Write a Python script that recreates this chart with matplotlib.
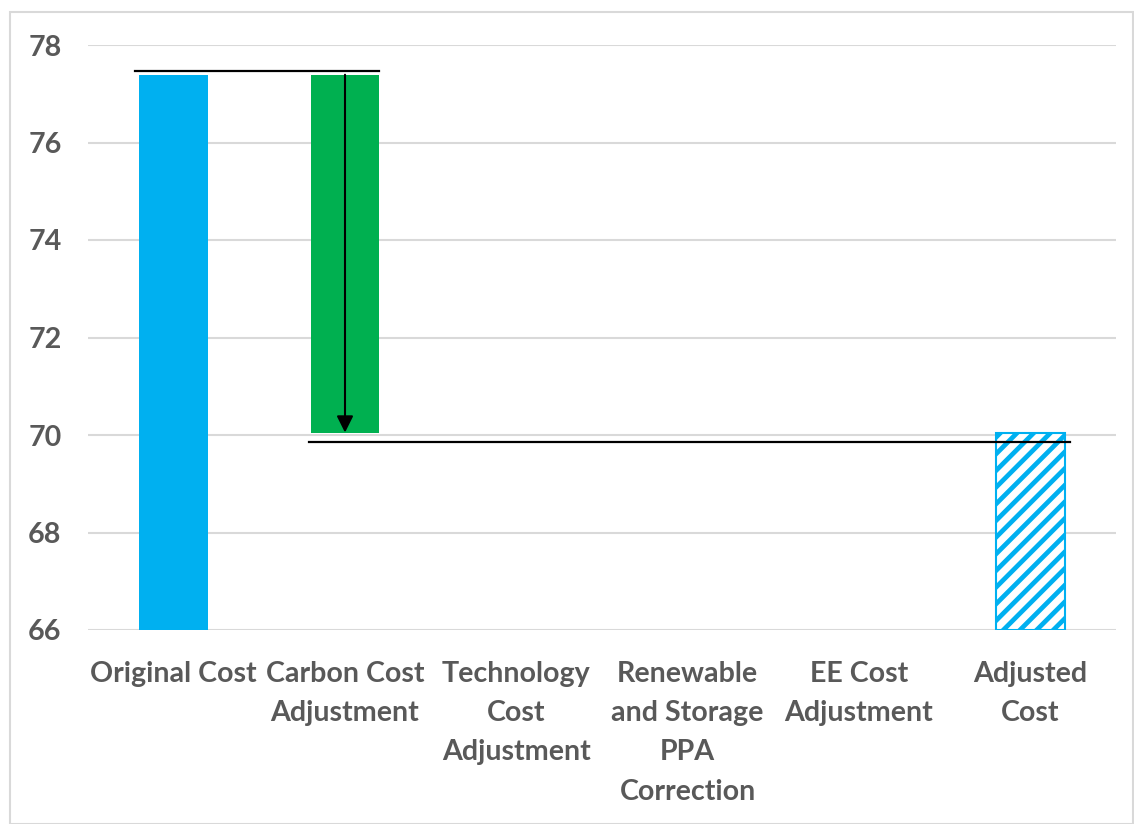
import matplotlib
matplotlib.use("Agg")
import matplotlib.pyplot as plt
from matplotlib.patches import Rectangle

categories = ["Original Cost", "Carbon Cost\nAdjustment", "Technology\nCost\nAdjustment",
              "Renewable\nand Storage\nPPA\nCorrection", "EE Cost\nAdjustment", "Adjusted\nCost"]
original_cost = 77.39
adjustments = [-7.34, 0.0, 0.0, 0.0]
adjusted_cost = 70.05
y_ticks = [66, 68, 70, 72, 74, 76, 78]

BLUE = "#00B0F0"
GREEN = "#00B050"
TEXT = "#595959"
GRID = "#D9D9D9"

plt.rcParams["font.family"] = ["Lato", "DejaVu Sans"]
plt.rcParams["font.weight"] = "bold"
plt.rcParams["hatch.linewidth"] = 3.4

fig = plt.figure(figsize=(11.34, 8.24), dpi=100)
ax = fig.add_axes([88 / 1134, 1 - 630 / 824, (1116 - 88) / 1134, (630 - 45) / 824])

# figure frame
fig.patches.append(Rectangle((10 / 1134, 0), 1 - 10 / 1134 - 0.001, 1 - 12 / 824,
                             transform=fig.transFigure, fill=False,
                             edgecolor=GRID, linewidth=1.5))

ymin = y_ticks[0]
x = list(range(len(categories)))
w = 0.4

# starting total
ax.bar(x[0], original_cost - ymin, bottom=ymin, width=w, color=BLUE, zorder=3)

# adjustments as floating bars
level = original_cost
for i, d in enumerate(adjustments, start=1):
    if d != 0:
        ax.bar(x[i], abs(d), bottom=min(level, level + d), width=w, color=GREEN, zorder=3)
        ax.annotate("", xy=(x[i], level + d), xytext=(x[i], level),
                    arrowprops=dict(arrowstyle="-|>", color="black", lw=1.5,
                                    mutation_scale=25, shrinkA=0, shrinkB=0),
                    zorder=5)
    level += d

# final total
ax.bar(x[-1], adjusted_cost - ymin, bottom=ymin, width=w, facecolor="white",
       edgecolor=BLUE, hatch="//", linewidth=1.5, zorder=3)

# reference levels
ax.plot([-0.225, 1.196], [original_cost + 0.08, original_cost + 0.08], color="black", lw=1.6, zorder=4)
ax.plot([0.787, 5.23], [adjusted_cost - 0.19, adjusted_cost - 0.19], color="black", lw=1.6, zorder=4)

ax.set_xlim(-0.5, len(categories) - 0.5)
ax.set_ylim(y_ticks[0], y_ticks[-1])
ax.set_yticks(y_ticks)
ax.set_xticks(x)
ax.set_xticklabels(categories, linespacing=1.64)
ax.yaxis.grid(True, color=GRID, linewidth=1.5, zorder=0)
ax.set_axisbelow(True)
for s in ax.spines.values():
    s.set_visible(False)
ax.tick_params(axis="both", length=0, labelsize=20.6, colors=TEXT)
ax.tick_params(axis="y", pad=19)
ax.tick_params(axis="x", pad=22)
for lbl in ax.get_xticklabels() + ax.get_yticklabels():
    lbl.set_fontweight("bold")
    lbl.set_color(TEXT)

fig.savefig("out.png", dpi=100)
